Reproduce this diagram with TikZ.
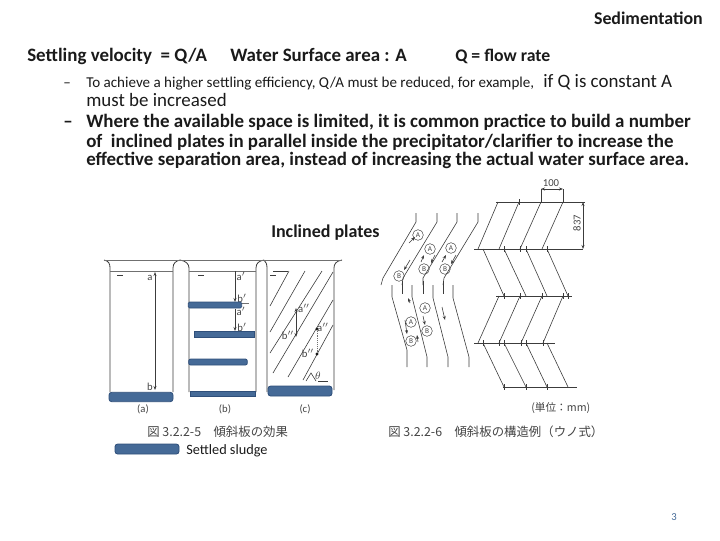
\documentclass[tikz,border=0pt]{standalone}
\usepackage{fontspec}
\setmainfont{Carlito}
\newfontfamily\cjkfont{Noto Sans CJK JP}
\usetikzlibrary{arrows.meta}
\usetikzlibrary{positioning}
\definecolor{sdink}{HTML}{1A1A1A}
\definecolor{sdline}{HTML}{3C3C3C}
\definecolor{sdwall}{HTML}{707070}
\definecolor{sdsludge}{HTML}{456A97}
\definecolor{sdsludgedark}{HTML}{2F4F7A}
\definecolor{sdcap}{HTML}{444444}
\tikzset{
  sdtext/.style={anchor=base west, inner sep=0pt, text=sdink},
  sdbold/.style={sdtext, font=\fontsize{14.2}{16}\selectfont\bfseries},
  sdplain/.style={sdtext, font=\fontsize{14.2}{16}\selectfont},
  sdsmall/.style={sdtext, font=\fontsize{11.3}{13}\selectfont},
  sdtank/.style={draw=sdline, line width=0.6pt},
  sdwater/.style={draw=sdwall, line width=0.4pt},
  sdplate/.style={draw=sdsludgedark, fill=sdsludge, line width=0.6pt},
  sdthin/.style={draw=sdline, line width=0.45pt},
  sdarrow/.style={-{Stealth[length=3pt]}, draw=sdline, line width=0.45pt},
  sdboth/.style={{Stealth[length=3pt]}-{Stealth[length=3pt]}, draw=sdline, line width=0.45pt},
  sdtag/.style={font=\fontsize{8}{9}\selectfont, text=sdcap, inner sep=0pt},
  sdring/.style={circle, draw=sdline, line width=0.35pt, inner sep=0pt,
    minimum size=8pt, font=\fontsize{5.5}{6}\selectfont, text=sdcap},
  sdcaption/.style={font=\cjkfont\fontsize{9.3}{11}\selectfont, text=sdcap,
    inner sep=0pt, anchor=base west},
}
\begin{document}
\begin{tikzpicture}[x=0.75pt, y=-0.75pt]
\useasboundingbox (0, 0) rectangle (720, 540);

% Header.
\node[sdtext, anchor=base east, font=\fontsize{13.4}{15}\selectfont\bfseries] (head) at (703, 24) {Sedimentation};
\node[sdbold] (velocity) at (27, 61) {Settling velocity\ \ = Q/A};
\node[sdbold] (surface) at (230, 61) {Water Surface area : A};
\node[sdtext, font=\fontsize{13.3}{15}\selectfont\bfseries] (flow) at (455, 61) {Q = flow rate};

% Bullets.
\node[sdsmall] (dashone) at (63, 87) {--};
\node[sdsmall] (lineone) at (86, 87)
  {To achieve a higher settling efficiency, Q/A must be reduced, for example,};
\node[sdplain] (lineonemore) at (543, 87) {if Q is constant A};
\node[sdplain] (linetwo) at (86, 106) {must be increased};
\node[sdbold] (dashtwo) at (63, 127) {--};
\node[sdbold] (linethree) at (86, 127)
  {Where the available space is limited, it is common practice to build a number};
\node[sdbold] (linefour) at (86, 147)
  {of\ \ inclined plates in parallel inside the precipitator/clarifier to increase the};
\node[sdbold] (linefive) at (86, 165)
  {effective separation area, instead of increasing the actual water surface area.};
\node[sdtext, font=\fontsize{13.5}{15}\selectfont\bfseries] (inclined) at (271, 237) {Inclined plates};

% Tank a.
\draw[sdtank] (104, 260) .. controls (109, 261) and (110, 264) .. (110, 268) -- (110, 392);
\draw[sdtank] (173, 392) -- (173, 268) .. controls (173, 263) and (176, 261) .. (180, 260);
\draw[sdwater] (104, 260) -- (180, 260);
\draw[sdwater] (110, 271) -- (173, 271);
\draw[sdthin] (117, 275) -- (123, 275);
\coordinate (atop) at (155, 272);
\coordinate (abot) at (155, 390);
\draw[sdboth] (atop) -- (abot);
\node[sdtag] (taga) at (150, 278) {a};
\node[sdtag] (tagb) at (150, 387) {b};
\node[sdplate, rounded corners=2pt, minimum width=48pt, minimum height=7pt, inner sep=0pt] (sludgea) at (141, 397) {};
\node[sdtag] (capa) at (143, 409) {(a)};

% Tank b.
\draw[sdtank] (180, 260) .. controls (186, 261) and (189, 264) .. (189, 268) -- (189, 392);
\draw[sdtank] (256, 392) -- (256, 268) .. controls (256, 263) and (259, 261) .. (264, 260);
\draw[sdwater] (180, 260) -- (264, 260);
\draw[sdwater] (189, 271) -- (256, 271);
\draw[sdthin] (198, 275) -- (204, 275);
\coordinate (btop) at (235, 271);
\coordinate (bmid) at (235, 302);
\coordinate (bnext) at (235, 309);
\coordinate (blow) at (235, 331);
\draw[sdarrow] (btop) -- (bmid);
\draw[sdarrow] (bnext) -- (blow);
\draw[sdwater] (235, 303) -- (249, 303);
\node[sdtag] (tagap) at (241, 276) {a$'$};
\node[sdtag] (tagbp) at (242, 298) {b$'$};
\node[sdtag] (tagaq) at (241, 311) {a$'$};
\node[sdtag] (tagbq) at (242, 327) {b$'$};
\node[sdplate, rounded corners=1pt, minimum width=40pt, minimum height=4.5pt, inner sep=0pt] (plateone) at (215, 305) {};
\node[sdplate, minimum width=45pt, minimum height=4.5pt, inner sep=0pt] (platetwo) at (224, 334) {};
\node[sdplate, rounded corners=1.5pt, minimum width=44pt, minimum height=4.5pt, inner sep=0pt] (platethree) at (218, 362) {};
\node[sdplate, minimum width=49pt, minimum height=4pt, inner sep=0pt] (sludgeb) at (223, 394) {};
\node[sdtag] (capb) at (225, 409) {(b)};

% Tank c.
\draw[sdtank] (264, 260) .. controls (266, 262) and (267, 264) .. (267, 268) -- (267, 392);
\draw[sdtank] (334, 390) -- (334, 268) .. controls (334, 264) and (336, 261) .. (342, 260);
\draw[sdwater] (264, 260) -- (342, 260);
\draw[sdthin] (273, 271) -- (288, 271);
\draw[sdthin] (270, 275) -- (276, 275);
\foreach \xa/\ya/\xb/\yb in {
  270/306/289/271, 270/332/305/271, 270/353/322/271,
  273/373/333/272, 288/377/333/300, 303/380/333/325}
  \draw[sdthin] (\xa, \ya) -- (\xb, \yb);
\draw[sdthin] (318, 381) -- (328, 381);
\draw[sdthin] (306, 381) -- (311, 373) -- (316, 381);
\coordinate (ctopa) at (296, 308);
\coordinate (cbota) at (296, 337);
\draw[sdboth] (ctopa) -- (cbota);
\coordinate (ctopb) at (317, 329);
\coordinate (cbotb) at (317, 354);
\draw[sdwater, densely dotted] (ctopb) -- (cbotb);
\fill[sdink] (ctopb) circle (1.6);
\fill[sdink] (cbotb) circle (1.6);
\node[sdtag] (tagc) at (304, 308) {a$''$};
\node[sdtag] (tagd) at (288, 335) {b$''$};
\node[sdtag] (tage) at (323, 327) {a$''$};
\node[sdtag] (tagf) at (308, 353) {b$''$};
\node[sdtag] (tagtheta) at (318, 376) {$\theta$};
\node[sdplate, rounded corners=2pt, minimum width=48pt, minimum height=7.5pt, inner sep=0pt] (sludgec) at (300, 391) {};
\node[sdtag] (capc) at (305, 409) {(c)};

% Captions.
\node[sdcaption] (capleft) at (147, 436) {図 3.2.2-5\quad 傾斜板の効果};
\node[sdplate, rounded corners=2pt, minimum width=48pt, minimum height=7.5pt, inner sep=0pt] (legend) at (147, 449) {};
\node[sdtext, font=\fontsize{10.7}{12}\selectfont] (legendtext) at (186, 454) {Settled sludge};

% Upper plates, side view.
\foreach \xa/\xb/\xc in {416/383/381, 437/403/402, 457/423/423, 478/444/443}
  \draw[sdthin] (\xa, 213) -- (\xa, 222) -- (\xb, 278) -- (\xc, 285);
\foreach \xb/\yb in {402/294, 423/294, 443/294}
  \draw[sdthin] (\xb, 281) -- (\xb, \yb);

% Lower plates, side view.
\foreach \xa/\xb/\ya/\yb in {392/407/297/350, 412/427/297/357, 433/448/298/357, 453/469/298/357}
  \draw[sdthin] (\xa, 285) -- (\xa, \ya) -- (\xb, \yb) -- (\xb, 367);

% Flow labels.
\node[sdring] (ringa) at (418, 235) {A};
\node[sdring] (ringb) at (430, 249) {A};
\node[sdring] (ringc) at (451, 248) {A};
\node[sdring] (ringd) at (399, 276) {B};
\node[sdring] (ringe) at (424, 269) {B};
\node[sdring] (ringf) at (445, 269) {B};
\node[sdring] (ringg) at (425, 308) {A};
\node[sdring] (ringh) at (411, 322) {A};
\node[sdring] (ringi) at (427, 331) {B};
\node[sdring] (ringj) at (411, 341) {B};
\draw[sdarrow] (409, 243) -- (415, 237);
\draw[sdarrow] (410, 260) -- (404, 270);
\draw[sdarrow] (421, 262) -- (424, 255);
\draw[sdarrow] (435, 255) -- (431, 263);
\draw[sdarrow] (442, 262) -- (446, 255);
\draw[sdarrow] (456, 255) -- (451, 264);
\draw[sdarrow] (410, 303) -- (408, 298);
\draw[sdarrow] (423, 316) -- (425, 325);
\draw[sdarrow] (405, 320) -- (407, 334);
\draw[sdarrow] (418, 342) -- (417, 335);
\draw[sdarrow] (442, 307) -- (445, 320);

% Zigzag plates, dimensions.
\foreach \ya/\xa/\xb in {202/496/585, 249/474/583, 296/496/572, 343/474/555, 387/503/577}
  \draw[sdthin, line width=0.7pt] (\xa, \ya) -- (\xb, \ya);
\foreach \xa/\xb in {498/478, 519/499, 541/520, 563/542}
  \draw[sdthin] (\xa, 202) -- (\xb, 249);
\foreach \xa/\xb in {483/504, 504/526, 526/547, 547/568}
  \draw[sdthin] (\xa, 249) -- (\xb, 296);
\foreach \xa/\xb in {499/478, 520/499, 542/521, 563/543}
  \draw[sdthin] (\xa, 296) -- (\xb, 343);
\foreach \xa/\xb in {483/504, 504/526, 526/547, 547/568}
  \draw[sdthin] (\xa, 343) -- (\xb, 387);
\foreach \xa/\ya in {519/202, 504/249, 520/249, 526/249, 547/249, 504/296, 520/296, 542/296, 563/296, 568/296, 483/343, 499/343, 504/343, 521/343, 526/343, 543/343, 504/387, 526/387, 547/387}
  \draw[sdthin] (\xa, \ya - 3) -- (\xa, \ya + 3);
\coordinate (dimleft) at (541, 189);
\coordinate (dimright) at (563, 189);
\coordinate (dimtop) at (583, 202);
\coordinate (dimbot) at (583, 249);
\draw[sdthin] (541, 202) -- (dimleft);
\draw[sdthin] (563, 202) -- (dimright);
\draw[sdboth] (dimleft) -- (dimright);
\draw[sdboth] (dimtop) -- (dimbot);
\node[sdtag] (dimhundred) at (551, 183) {100};
\node[sdtag, rotate=90] (dimeight) at (577, 223) {837};

% Captions, right.
\node[sdcaption, font=\cjkfont\fontsize{8}{10}\selectfont] (capunit) at (531, 411) {(単位：mm)};
\node[sdcaption] (capright) at (388, 436) {図 3.2.2-6\quad 傾斜板の構造例（ウノ式）};

% Page number.
\node[sdtext, font=\fontsize{8}{10}\selectfont, text=sdsludge, anchor=base east] (pagenum) at (677, 520) {3};

\end{tikzpicture}
\end{document}
